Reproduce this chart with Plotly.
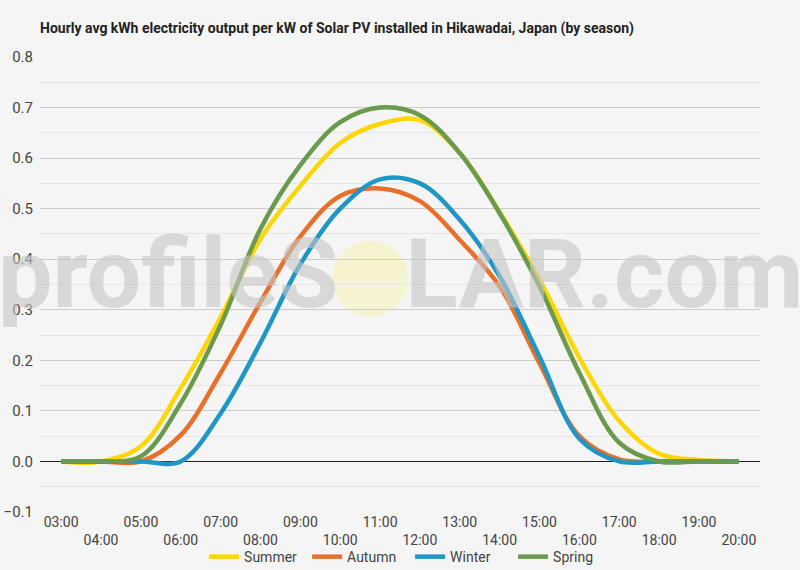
import plotly.graph_objects as go

hours = list(range(3, 21))
hour_labels = [f"{h:02d}:00" for h in hours]

summer = [0, 0, 0.03, 0.145, 0.285, 0.44, 0.545, 0.63, 0.668, 0.675, 0.61, 0.493, 0.359, 0.205, 0.08, 0.015, 0.003, 0]
autumn = [0, 0, 0, 0.052, 0.175, 0.315, 0.445, 0.525, 0.54, 0.515, 0.438, 0.346, 0.194, 0.05, 0.004, 0, 0, 0]
winter = [0, 0, 0, 0, 0.095, 0.235, 0.39, 0.5, 0.558, 0.55, 0.478, 0.366, 0.207, 0.045, 0, 0, 0, 0]
spring = [0, 0, 0.01, 0.115, 0.27, 0.46, 0.586, 0.671, 0.70, 0.685, 0.61, 0.491, 0.346, 0.175, 0.037, 0, 0, 0]

seasons = ["Summer", "Autumn", "Winter", "Spring"]
colors = ["#FFD602", "#E8702A", "#1F96C6", "#6A9A4E"]

y_ticks = [-0.1, 0.0, 0.1, 0.2, 0.3, 0.4, 0.5, 0.6, 0.7, 0.8]

# odd hours on the first row, even hours pushed down to a second row
tick_text = [lab if h % 2 == 1 else "<br>" + lab for h, lab in zip(hours, hour_labels)]

fig = go.Figure()
for name, vals, col in zip(seasons, [summer, autumn, winter, spring], colors):
    fig.add_trace(go.Scatter(
        x=hours, y=vals, name=name, mode="lines",
        line=dict(color=col, width=4.5, shape="spline", smoothing=1.0),
    ))

fig.update_layout(
    width=800, height=570,
    margin=dict(l=40, r=40, t=57, b=58, autoexpand=False),
    paper_bgcolor="#f5f5f5", plot_bgcolor="#f5f5f5",
    font=dict(family="Roboto", size=14, color="#444"),
    title=dict(
        text="<b>Hourly avg kWh electricity output per kW of Solar PV installed in Hikawadai, Japan (by season)</b>",
        x=0, xref="paper", y=0.951, yanchor="middle",
        font=dict(family="Roboto", size=14, color="#222"),
    ),
    showlegend=True,
    legend=dict(orientation="h", x=0.514, xanchor="center", y=-0.099, yanchor="middle",
                font=dict(size=14, color="#444"), bgcolor="rgba(0,0,0,0)",
                itemwidth=30, entrywidth=58, tracegroupgap=0),
    xaxis=dict(
        range=[2.47, 20.53], tickvals=hours, ticktext=tick_text, automargin=False,
        showgrid=False, zeroline=False, showline=False, ticks="",
        tickfont=dict(size=14, color="#444"),
    ),
    yaxis=dict(
        range=[-0.1, 0.8], tickvals=y_ticks, tickformat=".1f", automargin=False,
        gridcolor="#cccccc", gridwidth=1, zeroline=True, zerolinecolor="#222",
        zerolinewidth=1, ticks="", ticklabelstandoff=6,
        tickfont=dict(size=15, color="#444"),
        minor=dict(dtick=0.05, showgrid=True, gridcolor="#e6e6e6", gridwidth=1),
    ),
)

# watermark: text with the O replaced by a pale sun
fig.add_annotation(
    text="<b>profileS<span style='color:rgba(0,0,0,0)'>O</span>LAR.com</b>",
    xref="paper", yref="paper", x=0.5, y=0.524, xanchor="center", yanchor="middle",
    showarrow=False, font=dict(family="Roboto", size=97, color="rgba(196,196,196,0.6)"),
)
fig.add_shape(
    type="circle", xref="paper", yref="paper",
    x0=0.406, x1=0.511, y0=0.429, y1=0.596,
    fillcolor="rgba(250,238,130,0.32)", line=dict(width=0), layer="below",
)

fig.write_html("out.html", config={"displayModeBar": False},
               post_script="document.body.style.margin='0';")
